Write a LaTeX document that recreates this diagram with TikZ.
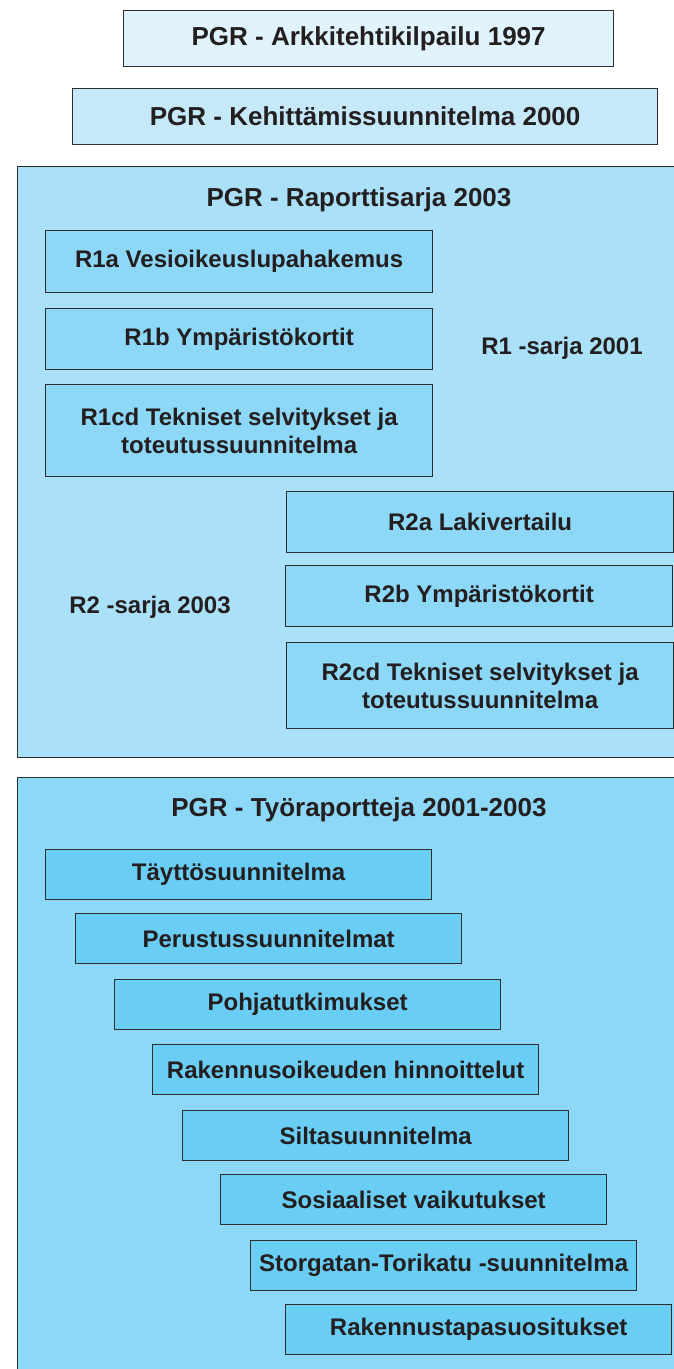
\documentclass[tikz,border=0pt]{standalone}
\usepackage{fontspec}
\setmainfont{Liberation Sans}
\definecolor{txt}{HTML}{231F20}
\definecolor{edge}{HTML}{2E2E2E}
\definecolor{cA}{HTML}{E1F3FC}
\definecolor{cB}{HTML}{C6E9FA}
\definecolor{cC}{HTML}{ABE0F9}
\definecolor{cD}{HTML}{8DD7F7}
\definecolor{cE}{HTML}{8ED8F7}
\definecolor{cF}{HTML}{69CDF4}
\begin{document}
\begin{tikzpicture}[x=1pt,y=-1pt,
  every node/.style={text=txt, font=\bfseries\fontsize{24}{28}\selectfont, inner sep=0pt},
  frame/.style={draw=edge, line width=1.3pt},
  topbox/.style={frame, anchor=north west, minimum height=56pt},
  rbox/.style={frame, fill=cD, anchor=north west, minimum width=387pt, align=center},
  wbox/.style={frame, fill=cF, anchor=north west, minimum width=386pt, minimum height=50pt},
  titletext/.style={font=\bfseries\fontsize{26}{30}\selectfont},
  plain/.style={}
]
\useasboundingbox (0,0) rectangle (674,1369);
\fill[white] (0,0) rectangle (674,1369);
\begin{scope}
\clip (0,0) rectangle (674,1369);
% top boxes
\node[topbox, fill=cA, minimum width=490pt] (arkki) at (123,10) {};
\node[titletext] (arkkit) at (arkki.center) {PGR - Arkkitehtikilpailu 1997};
\node[topbox, fill=cB, minimum width=585pt] (kehit) at (72,88) {};
\node[titletext] (kehitt) at (kehit.center) {PGR - Kehittämissuunnitelma 2000};
% Raporttisarja
\node[frame, fill=cC, anchor=north west, minimum width=700pt, minimum height=591pt] (rap) at (17,166) {};
\node[titletext] (rapt) at (359,200) {PGR - Raporttisarja 2003};
\node[rbox, minimum height=62pt] (r1a) at (45,230) {R1a Vesioikeuslupahakemus};
\node[rbox, minimum height=61pt] (r1b) at (45,308) {R1b Ympäristökortit};
\node[rbox, minimum height=92pt] (r1cd) at (45,384) {R1cd Tekniset selvitykset ja\\toteutussuunnitelma};
\node[plain] (r1s) at (562,348) {R1 -sarja 2001};
\node[rbox, minimum height=61pt] (r2a) at (286,491) {R2a Lakivertailu};
\node[rbox, minimum height=61pt] (r2b) at (285,565) {R2b Ympäristökortit};
\node[rbox, minimum height=86pt] (r2cd) at (286,642) {R2cd Tekniset selvitykset ja\\toteutussuunnitelma};
\node[plain] (r2s) at (150,607) {R2 -sarja 2003};
% Tyoraportteja
\node[frame, fill=cE, anchor=north west, minimum width=700pt, minimum height=620pt] (tyo) at (17,777) {};
\node[titletext] (tyot) at (359,810) {PGR - Työraportteja 2001-2003};
\node[wbox] (w1) at (45,849) {Täyttösuunnitelma};
\node[wbox] (w2) at (75,913) {Perustussuunnitelmat};
\node[wbox] (w3) at (114,979) {Pohjatutkimukset};
\node[wbox] (w4) at (152,1044) {Rakennusoikeuden hinnoittelut};
\node[wbox] (w5) at (182,1110) {Siltasuunnitelma};
\node[wbox] (w6) at (220,1174) {Sosiaaliset vaikutukset};
\node[wbox] (w7) at (250,1240) {Storgatan-Torikatu -suunnitelma};
\node[wbox] (w8) at (285,1304) {Rakennustapasuositukset};
\end{scope}
\end{tikzpicture}
\end{document}
